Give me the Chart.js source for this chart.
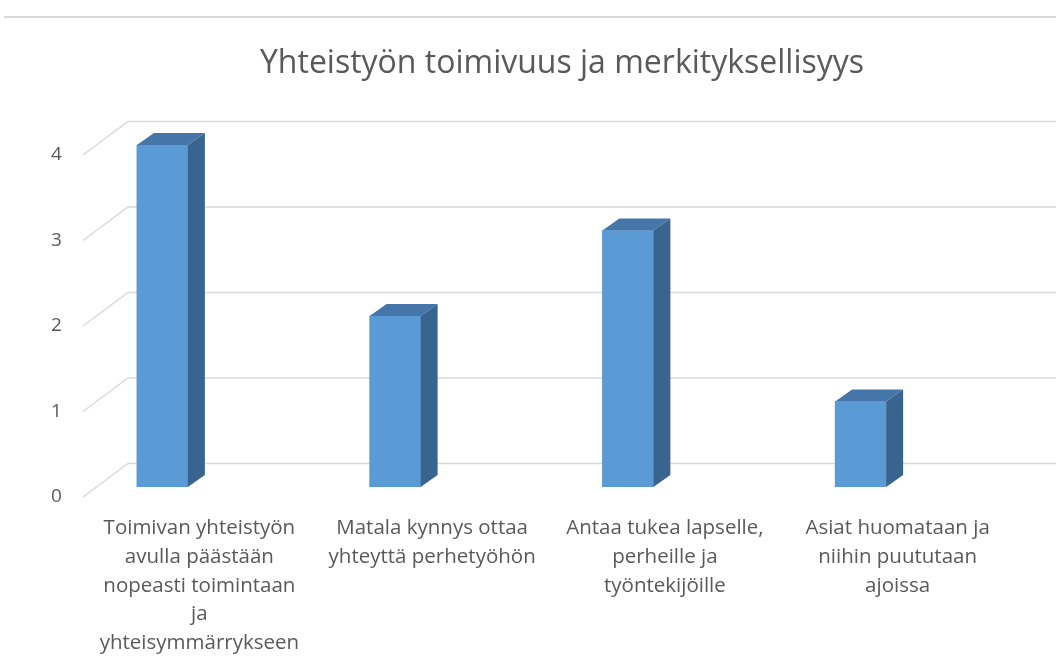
<!DOCTYPE html>
<html>
<head>
<meta charset="utf-8">
<script src="https://cdn.jsdelivr.net/npm/chart.js@4/dist/chart.umd.min.js"></script>
<style>
    body { margin: 0; background: #fff; }
    .frame-line { position: absolute; top: 16px; left: 4px; right: 0; height: 2px; background: #d9d9d9; }
    #chart { position: absolute; left: 0; top: 0; }
</style>
</head>
<body>
<div class="frame-line"></div>
<canvas id="chart" width="1056" height="669"></canvas>
<script>
        const categories = [
            ['Toimivan yhteistyön', 'avulla päästään', 'nopeasti toimintaan', 'ja', 'yhteisymmärrykseen'],
            ['Matala kynnys ottaa', 'yhteyttä perhetyöhön'],
            ['Antaa tukea lapselle,', 'perheille ja', 'työntekijöille'],
            ['Asiat huomataan ja', 'niihin puututaan', 'ajoissa']
        ];
        const values = [4, 2, 3, 1];
        const yTicks = [0, 1, 2, 3, 4];

        const textColor = '#595959';
        const gridColor = '#d9d9d9';
        const fontFamily = "'Open Sans', 'Liberation Sans', sans-serif";

        // depth of the fake 3D look
        const depth = { dx: 17, dy: -12 };
        const wall = { fx: 37, bx: 82, fdy: 10, bdy: -23.5 };

        // title sits centred on the whole picture, not on the plot
        const titleShift = {
            id: 'titleShift',
            afterLayout(chart) {
                const t = chart.titleBlock;
                if (t) {
                    t.left += 50.5;
                    t.right += 50.5;
                }
            }
        };

        // grid lines on the floor / back wall
        const wallGrid = {
            id: 'wallGrid',
            beforeDatasetsDraw(chart) {
                const { ctx, chartArea, scales: { y } } = chart;
                ctx.save();
                ctx.strokeStyle = gridColor;
                ctx.lineWidth = 1.5;
                yTicks.forEach(v => {
                    const py = y.getPixelForValue(v);
                    ctx.beginPath();
                    ctx.moveTo(chartArea.left + wall.fx, py + wall.fdy);
                    ctx.lineTo(chartArea.left + wall.bx, py + wall.bdy);
                    ctx.lineTo(chart.width, py + wall.bdy);
                    ctx.stroke();
                });
                ctx.restore();
            }
        };

        // top and side faces of each column
        const bar3d = {
            id: 'bar3d',
            afterDatasetsDraw(chart) {
                const { ctx } = chart;
                const meta = chart.getDatasetMeta(0);
                ctx.save();
                meta.data.forEach(bar => {
                    const l = bar.x - bar.width / 2;
                    const r = bar.x + bar.width / 2;
                    const t = bar.y;
                    const b = bar.base;
                    // top
                    ctx.fillStyle = '#4676a9';
                    ctx.beginPath();
                    ctx.moveTo(l, t);
                    ctx.lineTo(r, t);
                    ctx.lineTo(r + depth.dx, t + depth.dy);
                    ctx.lineTo(l + depth.dx, t + depth.dy);
                    ctx.closePath();
                    ctx.fill();
                    // side
                    ctx.fillStyle = '#3a6490';
                    ctx.beginPath();
                    ctx.moveTo(r, t);
                    ctx.lineTo(r + depth.dx, t + depth.dy);
                    ctx.lineTo(r + depth.dx, b + depth.dy);
                    ctx.lineTo(r, b);
                    ctx.closePath();
                    ctx.fill();
                });
                ctx.restore();
            }
        };

        new Chart(document.getElementById('chart'), {
            type: 'bar',
            data: {
                labels: categories,
                datasets: [{
                    label: 'Yhteistyön toimivuus ja merkityksellisyys',
                    data: values,
                    backgroundColor: '#5b9bd5',
                    borderWidth: 0,
                    barThickness: 51
                }]
            },
            options: {
                responsive: false,
                animation: false,
                layout: {
                    padding: { left: 46, right: 79, top: 0, bottom: -15.5 }
                },
                plugins: {
                    legend: { display: false },
                    tooltip: { enabled: false },
                    title: {
                        display: true,
                        text: 'Yhteistyön toimivuus ja merkityksellisyys',
                        color: textColor,
                        font: { family: fontFamily, size: 32, weight: 'normal' },
                        padding: { top: 45, bottom: 61.6 }
                    }
                },
                scales: {
                    x: {
                        grid: { display: false, drawTicks: false },
                        border: { display: false },
                        ticks: {
                            color: textColor,
                            font: { family: fontFamily, size: 20.5, lineHeight: 1.4 },
                            maxRotation: 0,
                            autoSkip: false,
                            padding: 27,
                            labelOffset: 37
                        }
                    },
                    y: {
                        min: 0,
                        max: 4,
                        afterFit(scale) { scale.width = 0; },
                        grid: { display: false, drawTicks: false, tickLength: 0 },
                        border: { display: false },
                        ticks: {
                            stepSize: 1,
                            mirror: true,
                            color: textColor,
                            font: { family: fontFamily, size: 19 },
                            padding: 5,
                            labelOffset: 10
                        }
                    }
                }
            },
            plugins: [titleShift, wallGrid, bar3d]
        });
</script>
</body>
</html>
